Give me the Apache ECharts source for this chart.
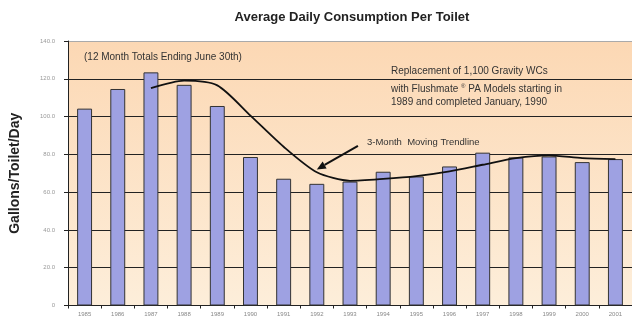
<!DOCTYPE html>
<html>
<head>
<meta charset="utf-8">
<script src="https://cdn.jsdelivr.net/npm/echarts@6/dist/echarts.min.js"></script>
<style>html,body{margin:0;padding:0;background:#fff;}#c{width:632px;height:321px;}</style>
</head>
<body>
<div id="c"></div>
<script>
// Data
var years = ['1985','1986','1987','1988','1989','1990','1991','1992','1993','1994','1995','1996','1997','1998','1999','2000','2001'];
var consumption = [104.2,114.6,123.4,116.8,105.6,78.6,67.1,64.4,65.6,70.8,68.3,73.6,80.9,78.4,78.9,75.9,77.5];
var trend = [null,null,115,119,116.5,100.5,84,70.5,66,67,68.5,71,74.5,78,79.5,78,77.5];
var yTicks = [0,20,40,60,80,100,120,140];
var arrowTip = [7, 72];      // category index, value
var arrowTail = [8.24, 84.5];

var chart = echarts.init(document.getElementById('c'), null, {renderer:'canvas'});
var font = '"Liberation Sans", Arial, sans-serif';
chart.setOption({
  animation:false,
  backgroundColor:'#ffffff',
  title:{
    text:'Average Daily Consumption Per Toilet',
    left:347, top:6, textAlign:'center',
    textStyle:{fontFamily:font,fontSize:13,fontWeight:'bold',color:'#222'}
  },
  grid:{
    left:66, top:41, width:569, height:264.5,
    show:true, borderWidth:0,
    backgroundColor:new echarts.graphic.LinearGradient(0,0,0,1,[
      {offset:0,color:'#fcd8b4'},{offset:1,color:'#fdeeda'}])
  },
  xAxis:{
    type:'category', data:years,
    axisLine:{lineStyle:{color:'#222',width:1}},
    axisTick:{show:true,length:3,lineStyle:{color:'#222'}},
    axisLabel:{fontFamily:font,fontSize:6,color:'#888',margin:6}
  },
  yAxis:{
    type:'value', min:0, max:140, interval:20,
    name:'Gallons/Toilet/Day', nameLocation:'middle', nameGap:46,
    nameTextStyle:{fontFamily:font,fontSize:14,fontWeight:'bold',color:'#222'},
    axisLine:{show:true,lineStyle:{color:'#222',width:1}},
    axisTick:{show:true,length:4,lineStyle:{color:'#222'}},
    axisLabel:{fontFamily:font,fontSize:6,color:'#999',margin:13,
      formatter:function(v){return v===0?'0':v.toFixed(1);}},
    splitLine:{show:true,lineStyle:{color:['#222','#222','#222','#222','#222','#222','#222','#aaa'],width:1}}
  },
  series:[{
    type:'bar', data:consumption, barWidth:'45%',
    itemStyle:{color:'#9ea1e2',borderColor:'#333',borderWidth:1}
  },{
    type:'line', data:trend, smooth:0.25, symbol:'none', connectNulls:false,
    lineStyle:{color:'#111',width:1.8}, z:5
  }]
});

var tip = chart.convertToPixel({gridIndex:0}, arrowTip);
var t0 = chart.convertToPixel({gridIndex:0}, [Math.floor(arrowTail[0]), arrowTail[1]]);
var t1 = chart.convertToPixel({gridIndex:0}, [Math.floor(arrowTail[0])+1, arrowTail[1]]);
var tail = [t0[0] + (t1[0]-t0[0])*(arrowTail[0]-Math.floor(arrowTail[0])), t0[1]];
var dx = tip[0]-tail[0], dy = tip[1]-tail[1], L = Math.sqrt(dx*dx+dy*dy);
var ux = dx/L, uy = dy/L, hl = 9, hw = 4;
var base = [tip[0]-ux*hl, tip[1]-uy*hl];
var txtStyle = {fontFamily:font, fontSize:10, fill:'#333'};
chart.setOption({graphic:[
  {type:'line', shape:{x1:tail[0],y1:tail[1],x2:base[0],y2:base[1]}, style:{stroke:'#111',lineWidth:2}, z:10},
  {type:'polygon', shape:{points:[tip,[base[0]-uy*hw,base[1]+ux*hw],[base[0]+uy*hw,base[1]-ux*hw]]}, style:{fill:'#111'}, z:10},
  {type:'text', left:84, top:52, style:Object.assign({text:'(12 Month Totals Ending June 30th)'}, txtStyle), z:10},
  {type:'text', left:391, top:66, style:Object.assign({text:'Replacement of 1,100 Gravity WCs'}, txtStyle), z:10},
  {type:'text', left:391, top:83, style:{text:'with Flushmate {s|®} PA Models starting in', fontFamily:font, fontSize:10, fill:'#333',
     rich:{s:{fontSize:6, verticalAlign:'top', padding:[0,0,6,0], fill:'#333', fontFamily:font}}}, z:10},
  {type:'text', left:391, top:97, style:Object.assign({text:'1989 and completed January, 1990'}, txtStyle), z:10},
  {type:'text', left:367, top:137, style:{text:'3-Month  Moving Trendline', fontFamily:font, fontSize:9.5, fill:'#333'}, z:10}
]});
</script>
</body>
</html>
